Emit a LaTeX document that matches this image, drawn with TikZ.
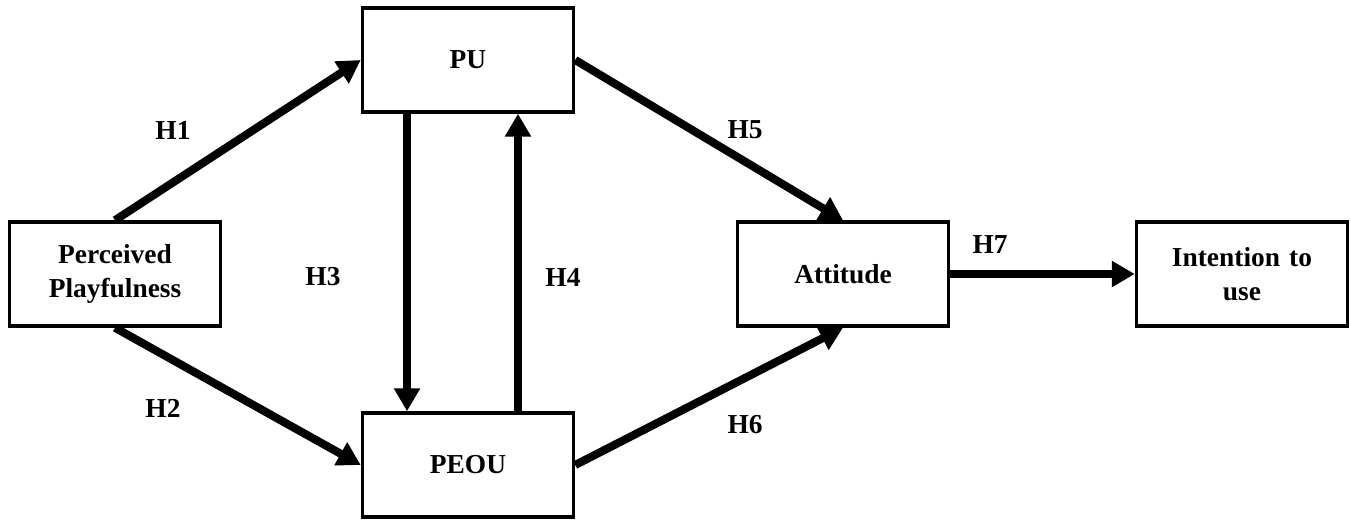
\documentclass[tikz,border=0pt]{standalone}
\usepackage{fontspec}
\setmainfont{Liberation Serif}
\usetikzlibrary{arrows.meta,positioning,calc}

\begin{document}
\begin{tikzpicture}[
    x=0.02cm,
    y=-0.02cm,
    font=\bfseries\fontsize{15.6pt}{19.4pt}\selectfont,
    block/.style={
        rectangle,
        draw,
        text width=3.8cm,
        align=center,
        minimum width=4.22cm,
        minimum height=2.08cm,
        line width=2pt
    },
    line/.style={
        draw,
        -{Triangle[length=0.46cm,width=0.5cm]},
        line width=4.6pt
    },
    hyp/.style={
        inner sep=0pt
    }
]
    \useasboundingbox (0,0) rectangle (1351,520);

    % --- Constructs ---
    \node [block] (play) at (115,274) {Perceived\\Playfulness};
    \node [block] (pu) at (468,60) {PU};
    \node [block] (peou) at (468,465) {PEOU};
    \node [block] (att) at (843,274) {Attitude};
    \node [block] (intent) at (1242,274) {Intention to\\use};

    % --- Hypotheses ---
    \path [line] (play.north) -- (pu.west);
    \path [line] (play.south) -- (peou.west);
    \path [line] ([xshift=-1.22cm]pu.south) -- ([xshift=-1.22cm]peou.north);
    \path [line] ([xshift=1cm]peou.north) -- ([xshift=1cm]pu.south);
    \path [line] (pu.east) -- (att.north);
    \path [line] (peou.east) -- (att.south);
    \path [line] (att.east) -- (intent.west);

    % --- Labels ---
    \node [hyp] (h1) at (173,130) {H1};
    \node [hyp] (h2) at (163,408) {H2};
    \node [hyp] (h3) at (323,277) {H3};
    \node [hyp] (h4) at (563,277) {H4};
    \node [hyp] (h5) at (745,130) {H5};
    \node [hyp] (h6) at (745,425) {H6};
    \node [hyp] (h7) at (990,245) {H7};

\end{tikzpicture}
\end{document}
